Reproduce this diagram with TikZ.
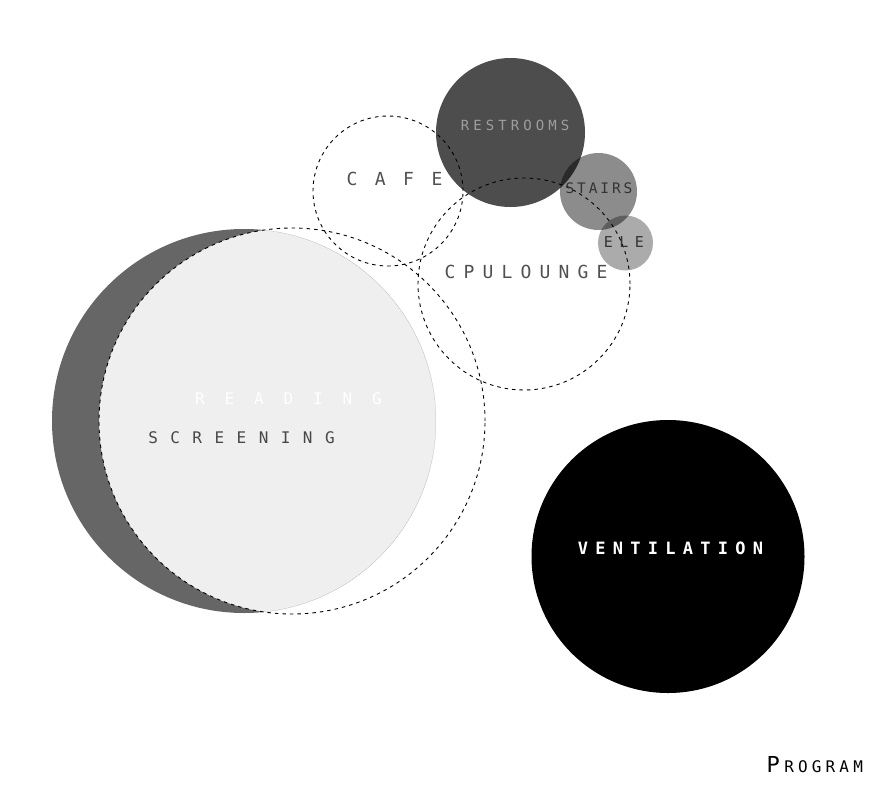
\documentclass[tikz,border=0pt]{standalone}
\usepackage{fontspec}
\newfontfamily\monofont{DejaVu Sans Mono}
\makeatletter
\newcommand\mysp[2]{\def\my@pitch{#1}\my@loop#2\relax}
\def\my@loop#1{\ifx#1\relax\else\makebox[\my@pitch][c]{#1}\expandafter\my@loop\fi}
\makeatother
\definecolor{darkA}{HTML}{666666}
\definecolor{lightA}{HTML}{EFEFEF}
\definecolor{restC}{HTML}{4D4D4D}
\definecolor{txtC}{HTML}{505050}
\tikzset{
  dashring/.style={draw=black, line width=0.9pt, dash pattern=on 3.5pt off 4pt},
  lbl/.style={inner sep=0pt, outer sep=0pt, anchor=center, text=txtC},
}
\begin{document}
\begin{tikzpicture}[x=1pt,y=-1pt]
\useasboundingbox (0,0) rectangle (886,809);
% reading / screening
\begin{scope}
  \clip (244,421) circle[radius=192pt];
  \fill[lightA] (292,421) circle[radius=193pt];
  \fill[darkA, even odd rule] (244,421) circle[radius=192pt] (292,421) circle[radius=193pt];
\end{scope}
% restrooms
\fill[restC] (510.5,132.5) circle[radius=74.5pt];
% stairs and ele
\fill[black, fill opacity=0.45] (598.5,191.5) circle[radius=38.5pt];
\fill[black, fill opacity=0.33] (625.5,243) circle[radius=27.5pt];
% ventilation
\fill[black] (668,556.5) circle[radius=136.5pt];
% dashed rings
\draw[dashring] (292,421) circle[radius=193pt];
\draw[dashring] (388,191) circle[radius=75pt];
\draw[dashring] (524,284) circle[radius=106pt];
% labels
\node[lbl, font=\monofont\fontsize{18}{18}\selectfont] (cafe) at (394.5,179) {\mysp{28.3pt}{CAFE}};
\node[lbl, font=\monofont\fontsize{14}{14}\selectfont, text=white!62!black] (rest) at (515,125) {\mysp{12.5pt}{RESTROOMS}};
\node[lbl, font=\monofont\fontsize{14.5}{14.5}\selectfont, text=black!80] (stairs) at (599,188) {\mysp{11.6pt}{STAIRS}};
\node[lbl, font=\monofont\fontsize{15}{15}\selectfont, text=black!80] (ele) at (624,242) {\mysp{15.5pt}{ELE}};
\node[lbl, font=\monofont\fontsize{18}{18}\selectfont] (cpu) at (526,272) {\mysp{19pt}{CPULOUNGE}};
\node[lbl, font=\monofont\fontsize{16}{16}\selectfont, text=white] (reading) at (288.5,399) {\mysp{29.5pt}{READING}};
\node[lbl, font=\monofont\fontsize{16}{16}\selectfont, text=black!72] (screening) at (241.5,438) {\mysp{22.1pt}{SCREENING}};
\node[lbl, font=\monofont\bfseries\fontsize{17}{17}\selectfont, text=white] (vent) at (670.5,548) {\mysp{17.5pt}{VENTILATION}};
\node[inner sep=0pt, anchor=base west, font=\monofont, text=black] (prog) at (764,772)
  {\makebox[18pt][c]{\fontsize{22}{22}\selectfont P}\fontsize{16}{16}\selectfont\mysp{13.8pt}{ROGRAM}};
\end{tikzpicture}
\end{document}
